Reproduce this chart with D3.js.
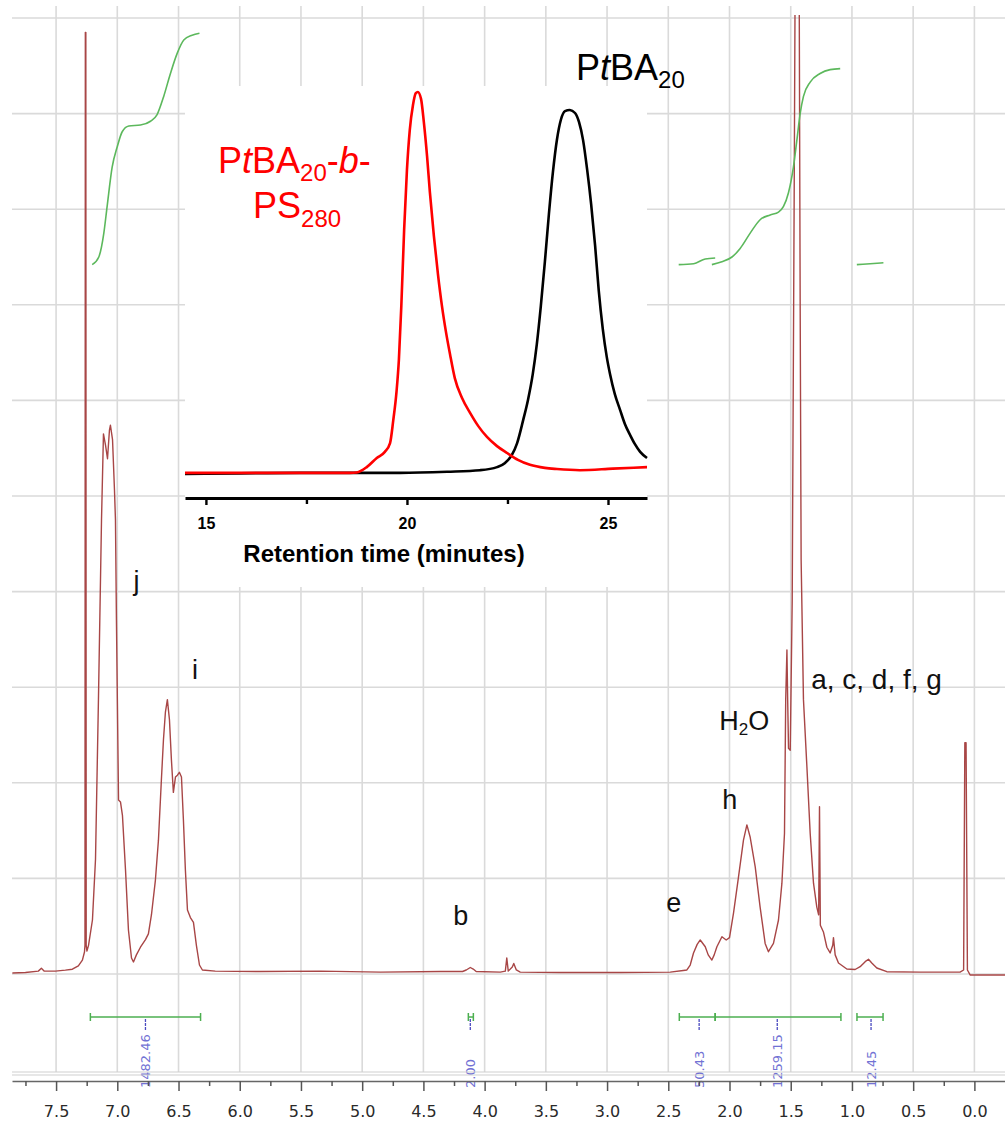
<!DOCTYPE html>
<html>
<head>
<meta charset="utf-8">
<script src="https://cdn.jsdelivr.net/npm/d3@7"></script>
<style>
  html, body { margin: 0; padding: 0; background: #fff; }
  svg { display: block; }
</style>
</head>
<body>
<svg id="chart" width="1005" height="1122"></svg>
<script>
// 1H NMR spectrum of PtBA20-b-PS280 in CDCl3: [ppm, relative intensity]
const spectrum = [
  [7.857,0.1],[7.75,0.15],[7.645,0.3],[7.62,0.6],[7.596,0.3],[7.506,0.3],[7.424,0.4],[7.367,0.5],
  [7.318,0.85],[7.285,1.45],[7.268,2.3],[7.264,3.0],[7.261,98.5],[7.257,98.5],[7.254,3.0],[7.248,2.4],
  [7.235,3.0],[7.203,5.65],[7.178,12.0],[7.154,28.7],[7.129,47.5],[7.113,56.5],[7.096,55.3],[7.08,53.9],
  [7.064,56.9],[7.056,57.4],[7.039,55.9],[7.023,50.6],[7.015,47.5],[7.007,37.0],[6.99,18.2],[6.974,18.0],
  [6.958,16.6],[6.933,10.9],[6.909,4.6],[6.884,1.67],[6.868,1.26],[6.844,2.0],[6.811,2.8],[6.77,3.6],
  [6.746,4.2],[6.721,6.2],[6.689,9.8],[6.664,14.0],[6.64,20.3],[6.623,24.5],[6.607,27.4],[6.591,28.7],
  [6.574,26.6],[6.558,22.4],[6.542,19.0],[6.525,20.6],[6.509,20.8],[6.493,21.1],[6.476,20.6],[6.46,16.1],
  [6.444,10.9],[6.427,6.7],[6.403,5.9],[6.378,5.4],[6.354,3.0],[6.329,0.94],[6.305,0.42],[6.2,0.3],
  [5.83,0.26],[5.34,0.3],[4.85,0.2],[4.36,0.26],[4.18,0.26],[4.15,0.42],[4.117,0.68],[4.093,0.52],
  [4.069,0.26],[3.872,0.2],[3.831,0.3],[3.819,1.67],[3.807,0.3],[3.774,0.73],[3.762,1.1],[3.741,0.42],
  [3.709,0.2],[3.382,0.16],[2.892,0.16],[2.484,0.2],[2.378,0.37],[2.348,0.42],[2.321,0.94],[2.294,2.2],
  [2.264,3.1],[2.239,3.56],[2.198,2.85],[2.174,2.0],[2.144,1.46],[2.125,2.0],[2.103,2.85],[2.062,3.9],
  [2.027,3.56],[2.0,3.8],[1.967,6.4],[1.927,10.1],[1.886,14.0],[1.858,15.6],[1.831,14.3],[1.79,11.2],
  [1.75,7.0],[1.709,3.2],[1.682,2.33],[1.641,3.2],[1.6,5.65],[1.572,9.5],[1.551,14.7],[1.541,28.7],
  [1.531,33.9],[1.525,28.7],[1.518,23.6],[1.504,23.4],[1.488,39],[1.472,81],[1.464,104],[1.448,110],
  [1.431,104],[1.423,70.5],[1.415,43.3],[1.396,28.7],[1.368,21.7],[1.341,14.7],[1.314,9.5],[1.287,7.0],
  [1.272,6.2],[1.265,17.5],[1.258,5.1],[1.233,4.4],[1.205,2.8],[1.178,2.2],[1.157,3.0],[1.151,3.8],
  [1.137,2.0],[1.11,1.15],[1.042,0.52],[0.974,0.47],[0.933,0.76],[0.892,1.29],[0.865,1.54],[0.838,1.15],
  [0.797,0.63],[0.715,0.24],[0.443,0.2],[0.117,0.2],[0.088,0.42],[0.078,24.2],[0.068,24.2],[0.057,0.42],
  [0.035,-0.1],[-0.25,-0.1]
];

// Integral traces (running integral, same vertical units)
const integralAromatic = [
  [7.205,74.2],[7.151,75.0],[7.11,77.5],[7.083,80.3],[7.042,84.4],[7.001,86.5],[6.96,88.1],[6.906,88.7],
  [6.811,88.8],[6.729,89.2],[6.675,89.9],[6.621,91.8],[6.566,94.2],[6.511,96.3],[6.457,97.7],[6.389,98.2],[6.329,98.4]
];
const integralBackbone = [[2.415,74.2],[2.293,74.3],[2.198,74.8],[2.117,74.9]];
const integralAliphatic = [
  [2.144,74.2],[2.062,74.5],[1.98,75.0],[1.913,75.9],[1.831,77.5],[1.75,78.9],[1.668,79.4],[1.6,79.7],
  [1.559,80.3],[1.519,81.7],[1.478,84.4],[1.45,87.2],[1.423,90.0],[1.396,91.8],[1.341,93.3],[1.26,94.2],
  [1.178,94.6],[1.096,94.7]
];
const integralEndGroup = [[0.96,74.2],[0.851,74.3],[0.743,74.4]];

// Integration regions [from, to] in ppm with their integral values
const integralRanges = [[7.22,6.32],[4.133,4.092],[2.41,2.117],[2.117,1.09],[0.959,0.746]];
const integralValues = ["1482.46","2.00","50.43","1259.15","12.45"];
const integralMarkPpm = [6.77,4.117,2.248,1.61,0.844];

// Peak assignments [text, ppm (left edge), intensity (baseline)]
const peakLabels = [["j",6.868,40.2],["i",6.39,30.9],["b",4.256,5.1],["e",2.517,6.5],["h",2.059,17.3],["a, c, d, f, g",1.333,29.8]];
const waterLabel = [2.084,25.5];

// Chemical shift axis
const ppmTicks = [7.5,7.0,6.5,6.0,5.5,5.0,4.5,4.0,3.5,3.0,2.5,2.0,1.5,1.0,0.5,0.0];
const ppmMinorTicks = [7.75,7.25,6.75,6.25,5.75,5.25,4.75,4.25,3.75,3.25,2.75,2.25,1.75,1.25,0.75,0.25];
const gridLevels = [0,10,20,30,40,50,60,70,80,90,100];

// SEC traces: [retention time (min), normalised RI signal]
const secBlock = [
  [14.48,0.003],[16.5,0.003],[18.58,0.003],[18.75,0.004],[19.0,0.018],[19.25,0.042],[19.45,0.058],
  [19.58,0.081],[19.66,0.141],[19.74,0.215],[19.8,0.3],[19.86,0.44],[19.93,0.639],[20.0,0.796],
  [20.07,0.9],[20.15,0.966],[20.22,0.997],[20.27,1.0],[20.35,0.982],[20.42,0.921],[20.5,0.832],
  [20.57,0.738],[20.67,0.623],[20.77,0.524],[20.87,0.44],[20.97,0.372],[21.07,0.314],[21.19,0.251],
  [21.37,0.199],[21.57,0.16],[21.77,0.126],[21.99,0.097],[22.24,0.073],[22.49,0.055],[22.76,0.037],
  [23.06,0.024],[23.43,0.016],[23.73,0.013],[24.3,0.010],[25.12,0.014],[25.97,0.018]
];
const secHomo = [
  [14.48,0.0],[17.34,0.003],[19.83,0.003],[21.0,0.006],[21.82,0.010],[22.24,0.018],[22.44,0.029],
  [22.61,0.05],[22.74,0.081],[22.89,0.141],[23.01,0.194],[23.13,0.262],[23.23,0.34],[23.33,0.44],
  [23.43,0.555],[23.53,0.68],[23.63,0.79],[23.73,0.875],[23.83,0.928],[23.93,0.95],[24.05,0.953],
  [24.18,0.945],[24.28,0.921],[24.38,0.874],[24.48,0.798],[24.58,0.707],[24.68,0.597],[24.77,0.48],
  [24.87,0.38],[24.97,0.306],[25.05,0.262],[25.17,0.209],[25.3,0.168],[25.42,0.131],[25.55,0.102],
  [25.67,0.078],[25.8,0.058],[25.97,0.042]
];
const secTicks = [15,20,25];
const secMinorTicks = [17.5,22.5];

const svg = d3.select("#chart");

// ---------- NMR panel ----------
const x = d3.scaleLinear().domain([7.86, -0.25]).range([12, 1005]);
const y = d3.scaleLinear().domain([0, 100]).range([974, 18]);

const grid = svg.append("g").attr("stroke", "#dadada").attr("stroke-width", 1.6);
grid.selectAll("line.h").data(gridLevels).join("line").attr("class", "h")
  .attr("x1", 12).attr("x2", 1005).attr("y1", d => y(d)).attr("y2", d => y(d));
grid.selectAll("line.v").data(ppmTicks).join("line").attr("class", "v")
  .attr("x1", d => x(d)).attr("x2", d => x(d)).attr("y1", 6).attr("y2", 1072);

svg.append("defs").append("clipPath").attr("id", "plotClip")
  .append("rect").attr("x", 12).attr("y", 15).attr("width", 993).attr("height", 1057);

const line = d3.line().x(d => x(d[0])).y(d => y(d[1]));

svg.append("path").datum(spectrum)
  .attr("clip-path", "url(#plotClip)")
  .attr("d", line).attr("fill", "none")
  .attr("stroke", "#a84646").attr("stroke-width", 1.4).attr("stroke-linejoin", "round");

const intLine = d3.line().x(d => x(d[0])).y(d => y(d[1])).curve(d3.curveMonotoneX);
const intG = svg.append("g").attr("fill", "none").attr("stroke", "#5cb85c").attr("stroke-width", 1.6);
[integralAromatic, integralBackbone, integralAliphatic, integralEndGroup].forEach(seg => {
  intG.append("path").datum(seg).attr("d", intLine);
});

// integration brackets, value marks and rotated values
const brG = svg.append("g");
integralRanges.forEach((r, i) => {
  const yb = 1017;
  brG.append("line").attr("x1", x(r[0])).attr("x2", x(r[1])).attr("y1", yb).attr("y2", yb)
    .attr("stroke", "#4caf50").attr("stroke-width", 1.5);
  r.forEach(p => brG.append("line").attr("x1", x(p)).attr("x2", x(p)).attr("y1", yb - 4).attr("y2", yb + 4)
    .attr("stroke", "#4caf50").attr("stroke-width", 1.5));
  const xm = x(integralMarkPpm[i]);
  brG.append("line").attr("x1", xm).attr("x2", xm).attr("y1", 1019).attr("y2", 1030)
    .attr("stroke", "#4a4ac0").attr("stroke-width", 1.3).attr("stroke-dasharray", "3 1");
  brG.append("text").attr("transform", `translate(${xm + 4.5},1088) rotate(-90)`)
    .attr("text-anchor", "start").attr("font-family", "DejaVu Sans, sans-serif")
    .attr("font-size", 13).attr("fill", "#7272d4").text(integralValues[i]);
});

// frame lines and chemical-shift axis
svg.append("g").attr("stroke", "#cfcfcf").attr("stroke-width", 1.2)
  .selectAll("line").data([1072, 1075]).join("line")
  .attr("x1", 12).attr("x2", 1005).attr("y1", d => d).attr("y2", d => d);

const axis = svg.append("g").attr("transform", "translate(0,1081)")
  .call(d3.axisBottom(x).tickValues(ppmTicks).tickFormat(d3.format(".1f"))
    .tickSize(10).tickSizeOuter(0).tickPadding(15));
axis.select(".domain").attr("stroke", "#666").attr("stroke-width", 1.5);
axis.selectAll(".tick line").attr("stroke", "#555").attr("stroke-width", 1.5);
axis.selectAll(".tick text").attr("font-family", "DejaVu Sans, sans-serif").attr("font-size", 16).attr("fill", "#2a2a2a");
const minor = svg.append("g").attr("transform", "translate(0,1081)")
  .call(d3.axisBottom(x).tickValues(ppmMinorTicks).tickFormat("").tickSize(5));
minor.select(".domain").remove();
minor.selectAll(".tick line").attr("stroke", "#555").attr("stroke-width", 1.5);

// peak assignment labels
const labG = svg.append("g").attr("font-family", "Liberation Sans, Arial, sans-serif").attr("font-size", 27).attr("fill", "#111");
peakLabels.forEach(d => labG.append("text").attr("x", x(d[1])).attr("y", y(d[2]))
  .attr("font-size", d[0].length > 2 ? 28 : 27).text(d[0]));
const w = labG.append("text").attr("x", x(waterLabel[0])).attr("y", y(waterLabel[1]));
w.append("tspan").text("H");
w.append("tspan").attr("font-size", 17).attr("dy", 5).text("2");
w.append("tspan").attr("dy", -5).text("O");

// ---------- SEC inset ----------
const ix = d3.scaleLinear().domain([14.48, 25.97]).range([185, 647]);
const iy = d3.scaleLinear().domain([0, 1]).range([474, 92]);

svg.append("rect").attr("x", 185).attr("y", 86).attr("width", 462).attr("height", 501).attr("fill", "#fff");

const sline = d3.line().x(d => ix(d[0])).y(d => iy(d[1])).curve(d3.curveMonotoneX);
svg.append("path").datum(secHomo).attr("d", sline).attr("fill", "none")
  .attr("stroke", "#000").attr("stroke-width", 2.6);
svg.append("path").datum(secBlock).attr("d", sline).attr("fill", "none")
  .attr("stroke", "#ff0000").attr("stroke-width", 2.6);

const iaxis = svg.append("g").attr("transform", "translate(0,498)")
  .call(d3.axisBottom(ix).tickValues(secTicks).tickFormat(d3.format("d")).tickSize(7).tickSizeOuter(0).tickPadding(13));
iaxis.select(".domain").attr("stroke", "#000").attr("stroke-width", 2.8);
iaxis.selectAll(".tick line").attr("stroke", "#000").attr("stroke-width", 2.4);
iaxis.selectAll(".tick text").attr("font-family", "Liberation Sans, Arial, sans-serif")
  .attr("font-weight", "bold").attr("font-size", 16).attr("fill", "#000");
const iminor = svg.append("g").attr("transform", "translate(0,498)")
  .call(d3.axisBottom(ix).tickValues(secMinorTicks).tickFormat("").tickSize(6));
iminor.select(".domain").remove();
iminor.selectAll(".tick line").attr("stroke", "#000").attr("stroke-width", 2.4);

svg.append("text").attr("x", 384).attr("y", 562).attr("text-anchor", "middle")
  .attr("font-family", "Liberation Sans, Arial, sans-serif").attr("font-weight", "bold")
  .attr("font-size", 24).attr("fill", "#000").text("Retention time (minutes)");

const tG = svg.append("g").attr("font-family", "Liberation Sans, Arial, sans-serif").attr("font-size", 36);
const homo = tG.append("text").attr("x", 576).attr("y", 80).attr("fill", "#000");
homo.append("tspan").text("P");
homo.append("tspan").attr("font-style", "italic").text("t");
homo.append("tspan").text("BA");
homo.append("tspan").attr("font-size", 24).attr("dy", 8).text("20");

const blk1 = tG.append("text").attr("x", 218).attr("y", 173).attr("fill", "#ff0000");
blk1.append("tspan").text("P");
blk1.append("tspan").attr("font-style", "italic").text("t");
blk1.append("tspan").text("BA");
blk1.append("tspan").attr("font-size", 24).attr("dy", 8).text("20");
blk1.append("tspan").attr("dy", -8).text("-");
blk1.append("tspan").attr("font-style", "italic").text("b");
blk1.append("tspan").text("-");
const blk2 = tG.append("text").attr("x", 253).attr("y", 218).attr("fill", "#ff0000");
blk2.append("tspan").text("PS");
blk2.append("tspan").attr("font-size", 24).attr("dy", 9).text("280");
</script>
</body>
</html>
